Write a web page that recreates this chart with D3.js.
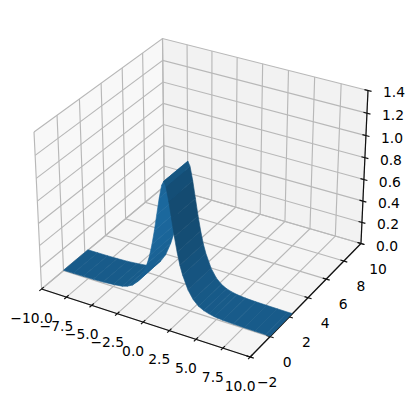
<!DOCTYPE html>
<html><head><meta charset="utf-8">
<script src="https://cdn.jsdelivr.net/npm/d3@7"></script>
<style>html,body{margin:0;padding:0;background:#fff}svg{display:block}text{font-family:"DejaVu Sans";font-size:13.89px;fill:#000}</style>
</head><body><svg id="c" width="416" height="404"></svg>
<script>
const xTicks=[-10,-7.5,-5,-2.5,0,2.5,5,7.5,10];
const xTickLabels=["−10.0","−7.5","−5.0","−2.5","0.0","2.5","5.0","7.5","10.0"];
const yTicks=[-2,0,2,4,6,8,10];
const yTickLabels=["−2","0","2","4","6","8","10"];
const zTicks=[0,.2,.4,.6,.8,1,1.2,1.4];
const zTickLabels=["0.0","0.2","0.4","0.6","0.8","1.0","1.2","1.4"];
const surfaceY=[0,2.3];
const surfaceX=[-10,-9,-8,-7,-6,-5,-4.1,-3.6,-3.1,-2.6,-2.1,-1.6,-1.35,-1.1,-.85,-.6,-.35,-.1,.1,.3,.55,.8,1.05,1.3,1.55,1.8,2.3,2.8,3.3,3.8,4.3,4.8,5.6,6.6,7.6,8.6,9.6,10];
const surfaceZ=[.004,.005,.006,.008,.012,.02,.03,.045,.07,.115,.19,.31,.39,.5,.63,.78,.93,1.05,1.09,1.05,.93,.78,.63,.5,.39,.31,.19,.115,.07,.045,.03,.02,.012,.008,.006,.005,.004,.004];

const svg=d3.select("#c");
const xLim=[-10,10],yLim=[-2,10],zLim=[0,1.4];
const boxScale=1.8294640721620434*25/24/Math.hypot(4,4,3);
const bx=d3.scaleLinear().domain(xLim).range([0,4*boxScale]);
const by=d3.scaleLinear().domain(yLim).range([0,4*boxScale]);
const bz=d3.scaleLinear().domain(zLim).range([0,3*boxScale]);
const elev=30*Math.PI/180,azim=-60*Math.PI/180,dist=10;
const R=[2*boxScale,2*boxScale,1.5*boxScale];
const W=[Math.cos(elev)*Math.cos(azim),Math.cos(elev)*Math.sin(azim),Math.sin(elev)];
const E=R.map((r,i)=>r+dist*W[i]);
const cross=(a,b)=>[a[1]*b[2]-a[2]*b[1],a[2]*b[0]-a[0]*b[2],a[0]*b[1]-a[1]*b[0]];
const dot=(a,b)=>a[0]*b[0]+a[1]*b[1]+a[2]*b[2];
const unit=a=>{const n=Math.hypot(...a);return a.map(v=>v/n)};
const U=unit(cross([0,0,1],W)),V=cross(W,U);
function view(x,y,z){
  const d=[bx(x)-E[0],by(y)-E[1],bz(z)-E[2]];
  const w=dot(d,W);
  return {u:dot(d,U)/-w,v:dot(d,V)/-w,w};
}
const px=d3.scaleLinear().domain([view(-10,-2,1.4).u,view(10,10,1.4).u]).range([34,368]);
const py=d3.scaleLinear().domain([view(-10,10,1.4).v,view(10,-2,0).v]).range([38.5,357]);
const P=(x,y,z)=>{const p=view(x,y,z);return [px(p.u),py(p.v)]};
const closed=d3.line().curve(d3.curveLinearClosed);
const open=d3.line();

const panes=[
 {c:"#f8f8f8",p:[[-10,-2,0],[-10,10,0],[-10,10,1.4],[-10,-2,1.4]]},
 {c:"#f2f2f2",p:[[-10,10,0],[10,10,0],[10,10,1.4],[-10,10,1.4]]},
 {c:"#f5f5f5",p:[[-10,-2,0],[10,-2,0],[10,10,0],[-10,10,0]]}];
svg.selectAll("path.pane").data(panes).join("path").attr("class","pane")
 .attr("d",d=>closed(d.p.map(q=>P(...q)))).attr("fill",d=>d.c);

const grid=[];
xTicks.forEach(x=>grid.push([[x,-2,0],[x,10,0],[x,10,1.4]]));
yTicks.forEach(y=>grid.push([[10,y,0],[-10,y,0],[-10,y,1.4]]));
zTicks.forEach(z=>grid.push([[-10,-2,z],[-10,10,z],[10,10,z]]));
svg.selectAll("path.grid").data(grid).join("path").attr("class","grid")
 .attr("d",d=>open(d.map(q=>P(...q)))).attr("fill","none").attr("stroke","#b8b8b8").attr("stroke-width",1.15);

const axes=[[[-10,-2,0],[10,-2,0]],[[10,-2,0],[10,10,0]],[[10,10,0],[10,10,1.4]]];
const ticks=[];
xTicks.forEach(x=>ticks.push([[x,-2+.2,0],[x,-2-.2,0]]));
yTicks.forEach(y=>ticks.push([[10-.33,y,0],[10+.33,y,0]]));
zTicks.forEach(z=>ticks.push([[10-.33,10,z],[10+.33,10,z]]));
svg.selectAll("path.ax").data(axes.concat(ticks)).join("path").attr("class","ax")
 .attr("d",d=>open(d.map(q=>P(...q)))).attr("fill","none").attr("stroke","#111").attr("stroke-width",1.2);

const light=[-2/3,-2/3,1/3];
const base=d3.rgb("#1f77b4");
const quads=[];
for(let i=0;i<surfaceX.length-1;i++)for(let j=0;j<surfaceY.length-1;j++){
  const x0=surfaceX[i],x1=surfaceX[i+1],z0=surfaceZ[i],z1=surfaceZ[i+1],y0=surfaceY[j],y1=surfaceY[j+1];
  const n=unit([-(z1-z0)/(x1-x0),0,1]);
  const f=.3+.7*(dot(n,light)+1)/2;
  const corners=[[x0,y0,z0],[x1,y0,z1],[x1,y1,z1],[x0,y1,z0]];
  const depth=d3.mean(corners,q=>view(...q).w);
  quads.push({corners,f,depth});
}
quads.sort((a,b)=>d3.ascending(a.depth,b.depth));
const shade=f=>d3.rgb(base.r*f,base.g*f,base.b*f).formatHex();
svg.selectAll("path.q").data(quads).join("path").attr("class","q")
 .attr("d",d=>closed(d.corners.map(q=>P(...q)))).attr("fill",d=>shade(d.f)).attr("stroke",d=>shade(d.f)).attr("stroke-width",.6).attr("stroke-linejoin","round");

function labels(cls,vals,txt,fn,dx,dy){
  svg.selectAll("text."+cls).data(vals).join("text").attr("class",cls)
   .attr("x",d=>fn(d)[0]+dx).attr("y",d=>fn(d)[1]+dy)
   .attr("text-anchor","middle").attr("dominant-baseline","central").text((d,i)=>txt[i]);
}
labels("xl",xTicks,xTickLabels,x=>P(x,-2,0),-10,28.5);
labels("yl",yTicks,yTickLabels,y=>P(10,y,0),17,25);
labels("zl",zTicks,zTickLabels,z=>P(10,10,z),26,2);
</script></body></html>
